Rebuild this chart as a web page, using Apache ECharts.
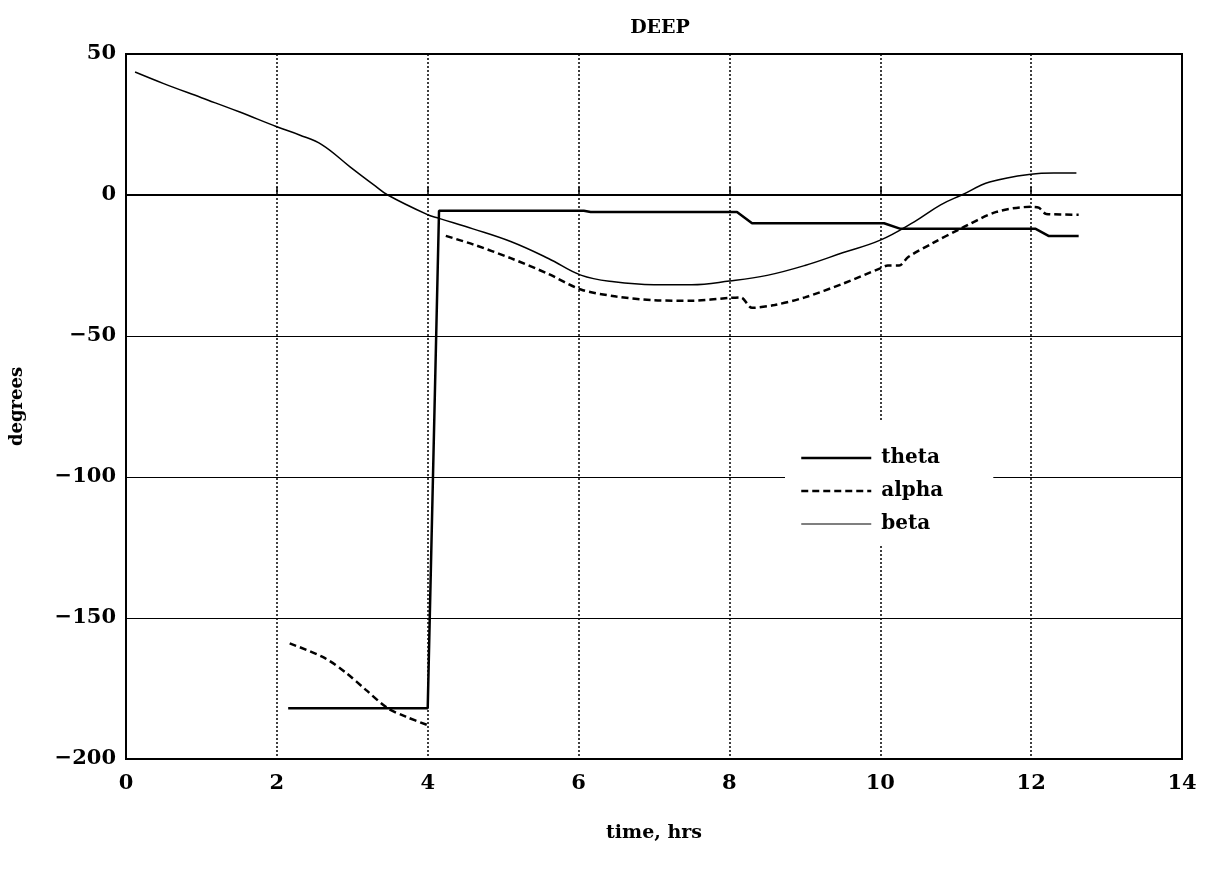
<!DOCTYPE html>
<html>
<head>
<meta charset="utf-8">
<script src="https://cdn.jsdelivr.net/npm/echarts@6/dist/echarts.min.js"></script>
<style>
  html, body { margin: 0; padding: 0; background: #fff; }
  #chart { width: 1205px; height: 869px; }
</style>
</head>
<body>
<div id="chart"></div>
<script>
// time (hrs), degrees
var thetaData = [[2.15,-182],[4.0,-182],[4.15,-5.6],[6.07,-5.6],[6.16,-6],[8.1,-6],[8.3,-10],[10.05,-10],[10.27,-12],[12.06,-12],[12.23,-14.5],[12.63,-14.5]];
var alphaData = [[2.17,-159],[2.62,-164],[2.92,-169.5],[3.18,-175.5],[3.47,-182],[3.71,-185],[4.0,-188],[4.1,null],
  [4.24,-14.5],[4.6,-17.5],[5.1,-22.4],[5.6,-28],[6.03,-33.5],[6.5,-36],[7.0,-37.3],[7.5,-37.5],[8.0,-36.5],[8.15,-36.3],[8.3,-40],[8.6,-39],[9.0,-36.3],[9.5,-31.5],[10.0,-26],[10.1,-25],[10.25,-25],[10.37,-22],[10.7,-17],[11.06,-12],[11.54,-6],[12.0,-4.2],[12.1,-4.5],[12.2,-6.7],[12.63,-7]];
var betaData = [[0.12,43.6],[0.5,39.5],[1,34.5],[1.5,29.5],[2,24.2],[2.3,21.3],[2.6,17.8],[2.97,10],[3.29,3.5],[3.47,0],[4,-7],[4.15,-8.3],[4.6,-12],[5.1,-16.5],[5.6,-22.5],[6.03,-28.4],[6.47,-30.8],[7,-31.8],[7.5,-31.8],[8,-30.5],[8.5,-28.5],[9,-25],[9.5,-20.5],[10,-16],[10.45,-9.5],[10.8,-3.5],[11.08,0],[11.45,4.6],[12,7.4],[12.3,7.8],[12.6,7.8]];
var seriesNames = ['theta', 'alpha', 'beta'];

var font = 'DejaVu Serif';
function minus(v) { return String(v).replace('-', '\u2212'); }

var chart = echarts.init(document.getElementById('chart'), null, { renderer: 'canvas' });
chart.setOption({
  animation: false,
  backgroundColor: '#fff',
  title: {
    text: 'DEEP',
    left: 655,
    textAlign: 'center',
    top: 14,
    textStyle: { fontFamily: font, fontSize: 19, fontWeight: 'bold', color: '#000' }
  },
  legend: {
    data: [
      { name: seriesNames[0], lineStyle: { width: 2.5 } },
      { name: seriesNames[1], lineStyle: { width: 2.5, type: [7, 4] } },
      { name: seriesNames[2], lineStyle: { width: 1.2 } }
    ],
    orient: 'vertical',
    left: 785,
    top: 420,
    padding: [28, 50, 12, 15],
    backgroundColor: '#fff',
    itemWidth: 70,
    itemHeight: 14,
    itemGap: 13,
    itemStyle: { opacity: 0 },
    textStyle: { fontFamily: font, fontSize: 20, fontWeight: 'bold', color: '#000', padding: [0, 0, 0, 5] }
  },
  grid: { left: 124, right: 23, top: 54, bottom: 110, show: true, borderColor: '#000', borderWidth: 2, backgroundColor: 'transparent' },
  xAxis: {
    type: 'value',
    min: 0, max: 14, interval: 2,
    name: 'time, hrs',
    nameLocation: 'middle',
    nameGap: 65,
    nameTextStyle: { fontFamily: font, fontSize: 19, fontWeight: 'bold', color: '#000' },
    axisLine: { show: true, lineStyle: { color: '#000', width: 2 } },
    axisTick: { show: true, inside: true, length: 8, lineStyle: { color: '#000', width: 1.5 } },
    axisLabel: { color: '#000', fontFamily: font, fontSize: 21, fontWeight: 'bold', margin: 14 },
    splitLine: { show: true, lineStyle: { color: '#000', width: 1.5, type: [2, 2] } }
  },
  yAxis: {
    type: 'value',
    min: -200, max: 50, interval: 50,
    name: 'degrees',
    nameLocation: 'middle',
    nameGap: 100,
    nameTextStyle: { fontFamily: font, fontSize: 18, fontWeight: 'bold', color: '#000' },
    axisLine: { show: true, lineStyle: { color: '#000', width: 2 } },
    axisTick: { show: false },
    axisLabel: { color: '#000', fontFamily: font, fontSize: 21, fontWeight: 'bold', margin: 10, formatter: minus },
    splitLine: { show: true, lineStyle: { color: '#000', width: 1 } }
  },
  series: [
    {
      name: 'theta',
      type: 'line',
      data: thetaData,
      symbol: 'none',
      itemStyle: { color: '#000' },
      lineStyle: { color: '#000', width: 2.5 }
    },
    {
      name: 'alpha',
      type: 'line',
      data: alphaData,
      symbol: 'none',
      smooth: 0.3,
      connectNulls: false,
      itemStyle: { color: '#000' },
      lineStyle: { color: '#000', width: 2.5, type: [7, 4] }
    },
    {
      name: 'beta',
      type: 'line',
      data: betaData,
      symbol: 'none',
      smooth: 0.4,
      itemStyle: { color: '#000' },
      lineStyle: { color: '#000', width: 1.5 }
    }
  ]
});
window.addEventListener('resize', function() { chart.resize(); });
</script>
</body>
</html>
